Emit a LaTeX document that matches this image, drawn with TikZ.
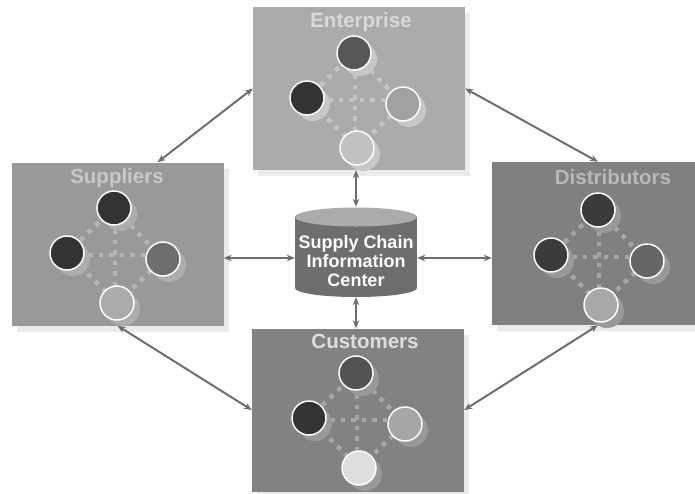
\documentclass[tikz,border=0pt]{standalone}
\usepackage{fontspec}
\setsansfont{Liberation Sans}
\usetikzlibrary{arrows.meta,shadows,calc}
\definecolor{connc}{HTML}{6E6E6E}
\newcommand{\diagunit}[9]{%
  \begin{scope}[shift={(#2,#3)}]
    \coordinate (#1-o) at (0,0);
    \coordinate (#1-pt) at (-1,-47);
    \coordinate (#1-pl) at (-48,-2);
    \coordinate (#1-pr) at (48,4);
    \coordinate (#1-pb) at (2,48);
  \end{scope}
  \draw[dotline,#4] (#1-pt) -- (#1-pl) -- (#1-pb) -- (#1-pr) -- cycle;
  \draw[dotline,#4] (#1-pl |- #1-o) -- (#1-pr |- #1-o);
  \draw[dotline,#4] (#1-o |- #1-pt) -- (#1-o |- #1-pb);
  \foreach \p/\c in {t/#6,l/#7,r/#8,b/#9}
    \node[ball, fill=\c, drop shadow={shadow xshift=6pt,shadow yshift=-6pt,fill=#5,opacity=1}] (#1-\p) at (#1-p\p) {};
}
\begin{document}
\begin{tikzpicture}[x=1pt,y=-1pt,
  box/.style={rectangle, minimum width=212pt, minimum height=163pt, inner sep=0pt, draw=none,
    drop shadow={shadow xshift=5pt, shadow yshift=-6pt, fill=black!8, opacity=1}},
  title/.style={font=\sffamily\bfseries\fontsize{20.5}{24}\selectfont, inner sep=0pt, anchor=base},
  dotline/.style={line width=4.5pt, dash pattern=on 4.5pt off 6pt},
  ball/.style={circle, minimum size=34pt, inner sep=0pt, draw=white, line width=1.5pt},
  conn/.style={draw=connc, line width=2pt, {Stealth[length=8pt,width=6.5pt]}-{Stealth[length=8pt,width=6.5pt]}}
]
\useasboundingbox (0,0) rectangle (695,493);

% boxes
\node[box, fill=black!33] (ent) at (359,88.5) {};
\node[box, fill=black!40] (sup) at (117.5,244) {};
\node[box, fill=black!50] (dis) at (598,243.5) {};
\node[box, fill=black!49] (cus) at (358,410) {};

% titles
\node[title, text=black!15] (ent-title) at (361,27) {Enterprise};
\node[title, text=black!21] (sup-title) at (117,183) {Suppliers};
\node[title, text=black!28] (dis-title) at (613,184) {Distributors};
\node[title, text=black!13] (cus-title) at (365,348) {Customers};

% units
\diagunit{ent}{355}{100}{black!23}{black!22}{black!66}{black!80}{black!37}{black!24}
\diagunit{sup}{115}{255}{black!29}{black!32}{black!80}{black!80}{black!57}{black!33}
\diagunit{dis}{599}{257}{black!35}{black!40}{black!77}{black!77}{black!60}{black!34}
\diagunit{cus}{357}{420}{black!35}{black!40}{black!67}{black!80}{black!35}{black!13}

% cylinder
\node[rectangle, minimum width=122pt, minimum height=90pt, inner sep=0pt] (db) at (356,252) {};
\fill[black!57] (295,217) rectangle (417,288);
\fill[black!57] (356,288) ellipse [x radius=61, y radius=9];
\fill[black!33] (356,217) ellipse [x radius=61, y radius=9.5];
\node[font=\sffamily\bfseries\fontsize{18}{19}\selectfont, align=center, text=white, inner sep=0pt, anchor=north] (db-text) at (356,235) {Supply Chain\\Information\\Center};

% connectors
\draw[conn] (ent.west) -- ([xshift=40pt]sup.north);
\draw[conn] (ent.east) -- (dis.north);
\draw[conn] (sup.south) -- (cus.west);
\draw[conn] (dis.south) -- (cus.east);
\draw[conn] (db.north) -- (db.north |- ent.south);
\draw[conn] (db.south) -- (db.south |- cus.north);
\draw[conn] ([yshift=-6pt]db.west) -- ([yshift=-6pt]db.west -| sup.east);
\draw[conn] ([yshift=-6pt]db.east) -- ([yshift=-6pt]db.east -| dis.west);
\end{tikzpicture}
\end{document}
